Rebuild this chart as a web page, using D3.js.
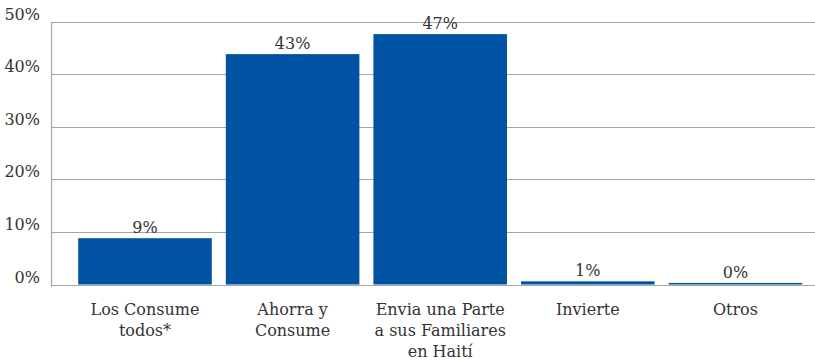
<!DOCTYPE html>
<html>
<head>
<meta charset="utf-8">
<script src="https://cdn.jsdelivr.net/npm/d3@7"></script>
<style>
  body { margin: 0; background: #fff; }
  svg { display: block; }
</style>
</head>
<body>
<svg id="chart" width="815" height="360" font-family="DejaVu Serif"></svg>
<script>
const categories = [
    ['Los Consume', 'todos*'],
    ['Ahorra y', 'Consume'],
    ['Envia una Parte', 'a sus Familiares', 'en Haití'],
    ['Invierte'],
    ['Otros']
]
const values = [8.8, 43.8, 47.6, 0.6, 0.3]
const value_labels = ['9%', '43%', '47%', '1%', '0%']
const y_ticks = [0, 10, 20, 30, 40, 50]

const svg = d3.select('#chart')
const left = 51, right = 815, top_ = 21.5, bottom = 284.5
const ink = '#333'

const x = d3.scaleBand()
    .domain(d3.range(categories.length))
    .range([71.2, 809.2])
    .paddingInner(0.095)
    .paddingOuter(0.0475)

const y = d3.scaleLinear().domain([0, 50]).range([bottom, top_])

// grid lines
svg.append('g').selectAll('line')
    .data(y_ticks)
    .enter()
    .append('line')
    .attr('x1', left)
    .attr('x2', right)
    .attr('y1', d => Math.round(y(d)) + .5)
    .attr('y2', d => Math.round(y(d)) + .5)
    .attr('stroke', '#a6a6a6')
    .attr('stroke-width', 1.2)

// left axis line
svg.append('line')
    .attr('x1', left + .5).attr('x2', left + .5)
    .attr('y1', Math.round(y(50))).attr('y2', bottom + 2)
    .attr('stroke', '#a6a6a6')
    .attr('stroke-width', 1.2)

// tick labels
svg.append('g').selectAll('text')
    .data(y_ticks)
    .enter()
    .append('text')
    .attr('x', 40)
    .attr('y', d => y(d) - 2)
    .attr('text-anchor', 'end')
    .attr('fill', ink)
    .style('font-size', '16px')
    .text(d => d + '%')

// bars
svg.append('g').selectAll('rect')
    .data(values)
    .enter()
    .append('rect')
    .attr('x', (d, i) => x(i))
    .attr('width', x.bandwidth())
    .attr('y', d => y(d))
    .attr('height', d => y(0) - y(d))
    .attr('fill', '#0053a3')

// value labels
svg.append('g').selectAll('text')
    .data(values)
    .enter()
    .append('text')
    .attr('x', (d, i) => x(i) + x.bandwidth() / 2)
    .attr('y', d => y(d) - 5)
    .attr('text-anchor', 'middle')
    .attr('fill', ink)
    .style('font-size', '16px')
    .text((d, i) => value_labels[i])

// category labels
const cat = svg.append('g').selectAll('text')
    .data(categories)
    .enter()
    .append('text')
    .attr('text-anchor', 'middle')
    .attr('fill', ink)
    .style('font-size', '16px')

cat.selectAll('tspan')
    .data((d, i) => d.map(line => ({line, i})))
    .enter()
    .append('tspan')
    .attr('x', d => x(d.i) + x.bandwidth() / 2)
    .attr('y', (d, j) => 315 + j * 21)
    .text(d => d.line)
</script>
</body>
</html>
